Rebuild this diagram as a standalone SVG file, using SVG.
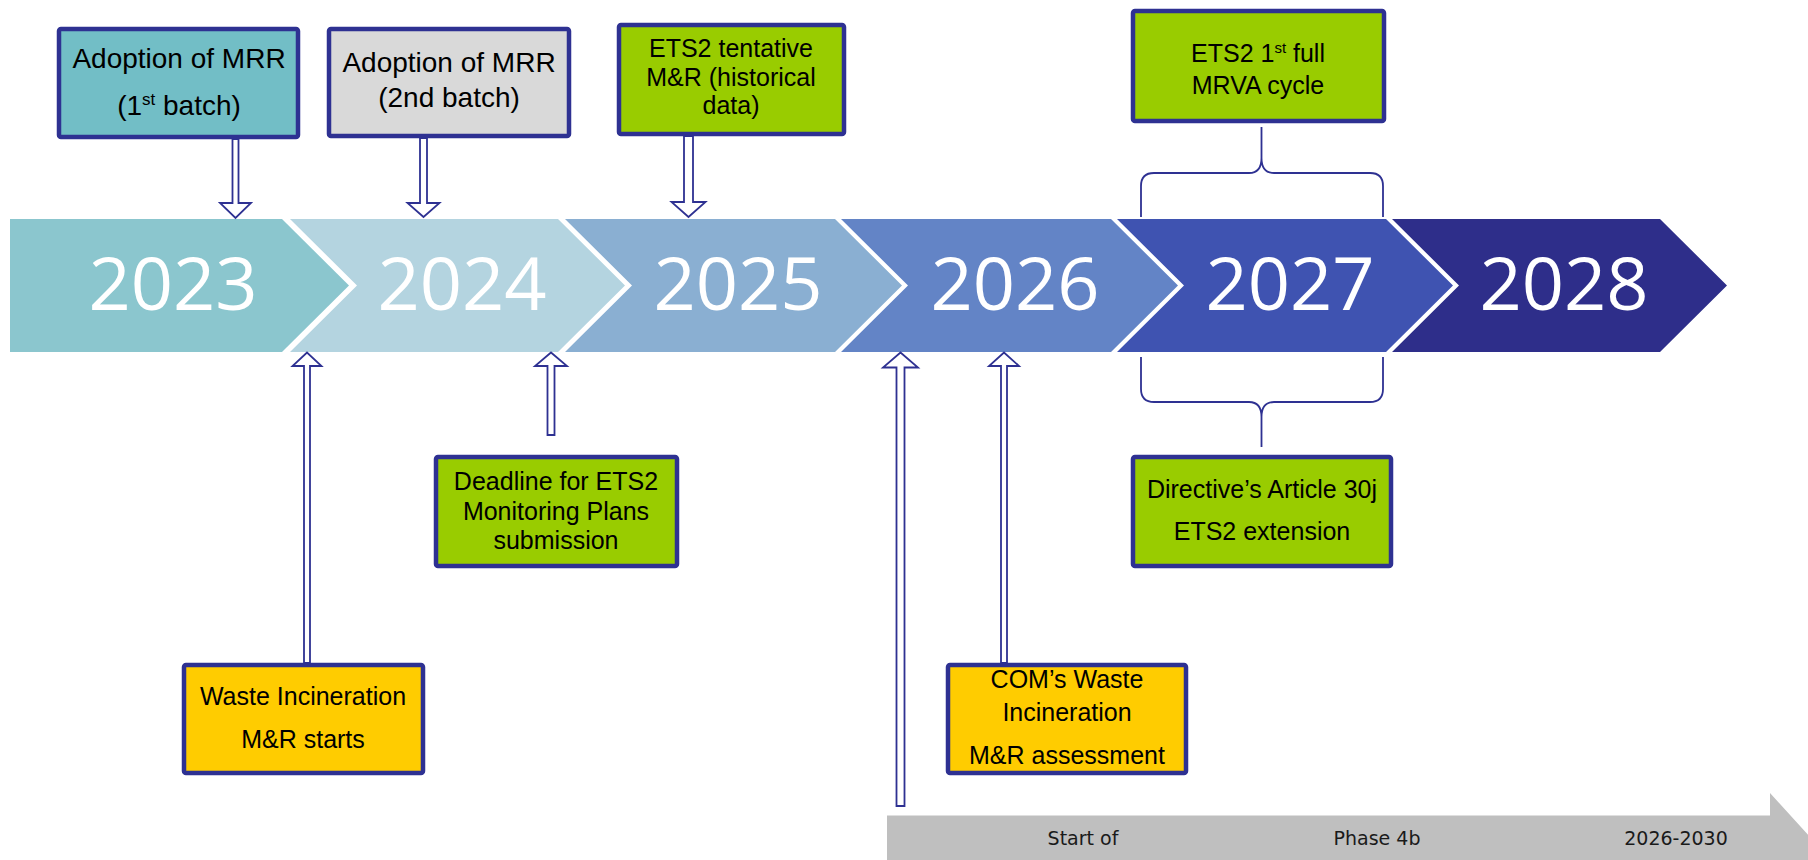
<svg xmlns="http://www.w3.org/2000/svg" width="1808" height="860" viewBox="0 0 1808 860">
  <style>
    .yr { font-family: "Open Sans", "Liberation Sans", sans-serif; font-size: 74px; fill: #ffffff; text-anchor: middle; }
    .box { stroke: #2E3192; stroke-width: 4.5; }
    .lbl { font-family: "Liberation Sans", Arial, sans-serif; font-size: 25px; fill: #000000; text-anchor: middle; }
    .big { font-size: 28px; }
    .arr { fill: #ffffff; stroke: #2E3192; stroke-width: 1.8; stroke-linejoin: miter; }
    .brace { fill: none; stroke: #2E3192; stroke-width: 1.8; }
    .ph { font-family: "DejaVu Sans", Verdana, sans-serif; font-size: 19px; fill: #1a1a1a; text-anchor: middle; }
  </style>

  <rect width="1808" height="860" fill="#ffffff"/>

  <!-- year chevrons -->
  <g id="y2023">
    <polygon points="10,219 282,219 349,285.5 282,352 10,352" fill="#8BC6CE"/>
    <text class="yr" x="173" y="310">2023</text>
  </g>
  <g id="y2024">
    <polygon points="290,219 558,219 625,285.5 558,352 290,352 357,285.5" fill="#B4D4E0"/>
    <text class="yr" x="462" y="310">2024</text>
  </g>
  <g id="y2025">
    <polygon points="565,219 835,219 902,285.5 835,352 565,352 632,285.5" fill="#8AAFD2"/>
    <text class="yr" x="738" y="310">2025</text>
  </g>
  <g id="y2026">
    <polygon points="841,219 1111,219 1178,285.5 1111,352 841,352 908,285.5" fill="#6384C6"/>
    <text class="yr" x="1015" y="310">2026</text>
  </g>
  <g id="y2027">
    <polygon points="1117,219 1386,219 1453,285.5 1386,352 1117,352 1184,285.5" fill="#3F53B1"/>
    <text class="yr" x="1290" y="310">2027</text>
  </g>
  <g id="y2028">
    <polygon points="1392,219 1660,219 1727,285.5 1660,352 1392,352 1459,285.5" fill="#2E2E8A"/>
    <text class="yr" x="1564" y="310">2028</text>
  </g>

  <!-- phase band -->
  <g id="phase4b">
    <polygon points="887,815.5 1770,815.5 1770,793 1840,870 887,870" fill="#BFBFBF"/>
    <text class="ph" x="1083" y="845">Start of</text>
    <text class="ph" x="1377" y="845">Phase 4b</text>
    <text class="ph" x="1676" y="845">2026-2030</text>
  </g>

  <!-- connectors -->
  <g id="connectors">
    <!-- down arrows into the timeline -->
    <path class="arr" d="M232.5,139 H238.5 V203 H251 L235.5,218 L220,203 H232.5 Z"/>
    <path class="arr" d="M420,138 H427 V203 H439.5 L423.5,217 L407.5,203 H420 Z"/>
    <path class="arr" d="M684,136 H693 V202 H705.5 L688.5,217 L671.5,202 H684 Z"/>
    <!-- up arrows from the timeline -->
    <path class="arr" d="M304,663 H310 V366 H321.5 L307,352.5 L292.5,366 H304 Z"/>
    <path class="arr" d="M547.5,435 H554.5 V366 H567 L551,352.5 L535,366 H547.5 Z"/>
    <path class="arr" d="M896.5,806 H904.5 V367.5 H918 L900.5,352.5 L883,367.5 H896.5 Z"/>
    <path class="arr" d="M1001,663 H1007 V366 H1019 L1004,352.5 L989,366 H1001 Z"/>
    <!-- braces spanning 2027 -->
    <path class="brace" d="M1141,217 V186 Q1141,173 1154,173 H1249 Q1261.5,173 1261.5,158 V127 M1261.5,158 Q1261.5,173 1274,173 H1370 Q1383,173 1383,186 V217"/>
    <path class="brace" d="M1141,357 V389 Q1141,402 1154,402 H1249 Q1261.5,402 1261.5,417 V447 M1261.5,417 Q1261.5,402 1274,402 H1370 Q1383,402 1383,389 V357"/>
  </g>

  <!-- event boxes -->
  <g id="mrr1">
    <rect class="box" x="59" y="29" width="239" height="108" rx="2" fill="#72BEC6"/>
    <text class="lbl big" x="179" y="68">Adoption of MRR</text>
    <text class="lbl big" x="179" y="115">(1<tspan font-size="17" dy="-10">st</tspan><tspan dy="10"> batch)</tspan></text>
  </g>
  <g id="mrr2">
    <rect class="box" x="329" y="29" width="240" height="107" rx="2" fill="#D9D9D9"/>
    <text class="lbl big" x="449" y="72">Adoption of MRR</text>
    <text class="lbl big" x="449" y="107">(2nd batch)</text>
  </g>
  <g id="ets2-tentative">
    <rect class="box" x="619" y="25" width="225" height="109" rx="2" fill="#99CC00"/>
    <text class="lbl" x="731" y="57">ETS2 tentative</text>
    <text class="lbl" x="731" y="86">M&amp;R (historical</text>
    <text class="lbl" x="731" y="114">data)</text>
  </g>
  <g id="ets2-mrva">
    <rect class="box" x="1133" y="11" width="251" height="110" rx="2" fill="#99CC00"/>
    <text class="lbl" x="1258" y="62">ETS2 1<tspan font-size="15" dy="-9">st</tspan><tspan dy="9"> full</tspan></text>
    <text class="lbl" x="1258" y="94">MRVA cycle</text>
  </g>
  <g id="deadline">
    <rect class="box" x="436" y="457" width="241" height="109" rx="2" fill="#99CC00"/>
    <text class="lbl" x="556" y="490">Deadline for ETS2</text>
    <text class="lbl" x="556" y="520">Monitoring Plans</text>
    <text class="lbl" x="556" y="549">submission</text>
  </g>
  <g id="article30j">
    <rect class="box" x="1133" y="457" width="258" height="109" rx="2" fill="#99CC00"/>
    <text class="lbl" x="1262" y="498">Directive’s Article 30j</text>
    <text class="lbl" x="1262" y="540">ETS2 extension</text>
  </g>
  <g id="waste">
    <rect class="box" x="184" y="665" width="239" height="108" rx="2" fill="#FFCC00"/>
    <text class="lbl" x="303" y="705">Waste Incineration</text>
    <text class="lbl" x="303" y="748">M&amp;R starts</text>
  </g>
  <g id="com-waste">
    <rect class="box" x="948" y="665" width="238" height="108" rx="2" fill="#FFCC00"/>
    <text class="lbl" x="1067" y="688">COM’s Waste</text>
    <text class="lbl" x="1067" y="721">Incineration</text>
    <text class="lbl" x="1067" y="764">M&amp;R assessment</text>
  </g>
</svg>
